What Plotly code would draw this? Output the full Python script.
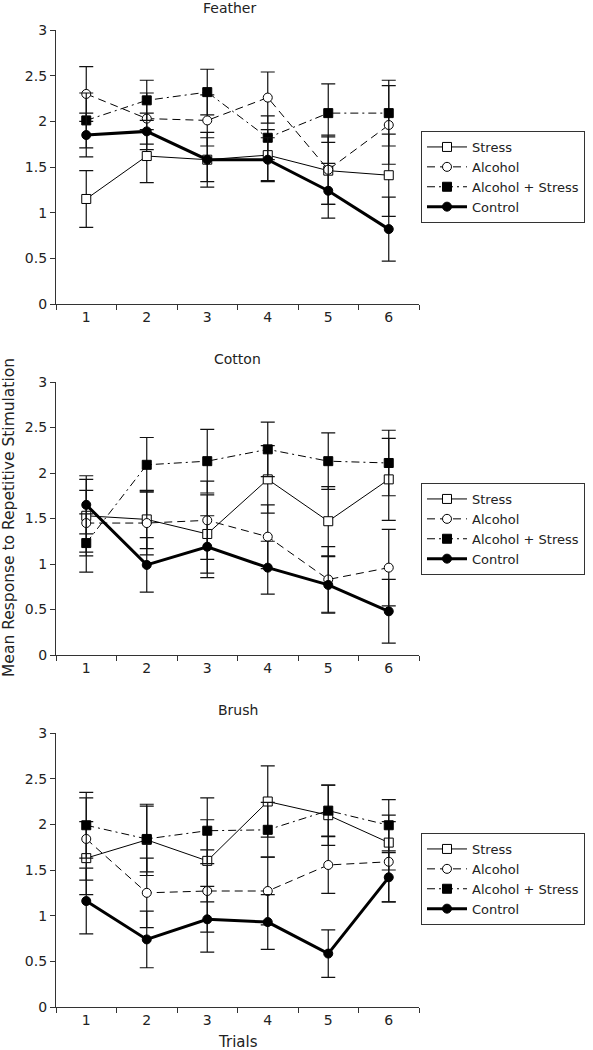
import plotly.graph_objects as go

trials = [1, 2, 3, 4, 5, 6]
series_names = ["Stress", "Alcohol", "Alcohol + Stress", "Control"]
panel_titles = ["Feather", "Cotton", "Brush"]
y_ticks = [0, 0.5, 1, 1.5, 2, 2.5, 3]
y_tick_labels = ["0", "0.5", "1", "1.5", "2", "2.5", "3"]

# Feather
feather_stress = [1.15, 1.62, 1.58, 1.63, 1.46, 1.41]
feather_stress_err = [0.31, 0.29, 0.30, 0.28, 0.37, 0.45]
feather_alcohol = [2.30, 2.03, 2.01, 2.26, 1.47, 1.96]
feather_alcohol_err = [0.30, 0.28, 0.28, 0.28, 0.38, 0.43]
feather_alc_stress = [2.01, 2.23, 2.32, 1.82, 2.09, 2.09]
feather_alc_stress_err = [0.30, 0.22, 0.25, 0.24, 0.32, 0.36]
feather_control = [1.85, 1.89, 1.58, 1.58, 1.24, 0.82]
feather_control_err = [0.24, 0.20, 0.24, 0.24, 0.30, 0.35]

# Cotton
cotton_stress = [1.53, 1.49, 1.33, 1.93, 1.47, 1.93]
cotton_stress_err = [0.40, 0.32, 0.43, 0.37, 0.38, 0.45]
cotton_alcohol = [1.45, 1.45, 1.48, 1.30, 0.83, 0.96]
cotton_alcohol_err = [0.36, 0.35, 0.43, 0.35, 0.36, 0.42]
cotton_alc_stress = [1.23, 2.09, 2.13, 2.26, 2.13, 2.11]
cotton_alc_stress_err = [0.32, 0.30, 0.35, 0.30, 0.31, 0.36]
cotton_control = [1.65, 0.99, 1.19, 0.96, 0.77, 0.48]
cotton_control_err = [0.32, 0.30, 0.34, 0.29, 0.31, 0.35]

# Brush
brush_stress = [1.63, 1.83, 1.60, 2.25, 2.10, 1.80]
brush_stress_err = [0.40, 0.39, 0.45, 0.39, 0.33, 0.30]
brush_alcohol = [1.84, 1.25, 1.27, 1.27, 1.555, 1.59]
brush_alcohol_err = [0.45, 0.38, 0.45, 0.37, 0.31, 0.44]
brush_alc_stress = [1.99, 1.84, 1.93, 1.94, 2.15, 1.99]
brush_alc_stress_err = [0.36, 0.36, 0.36, 0.30, 0.28, 0.28]
brush_control = [1.16, 0.74, 0.96, 0.93, 0.585, 1.42]
brush_control_err = [0.36, 0.31, 0.36, 0.30, 0.26, 0.27]

panels = [
    [(feather_stress, feather_stress_err), (feather_alcohol, feather_alcohol_err),
     (feather_alc_stress, feather_alc_stress_err), (feather_control, feather_control_err)],
    [(cotton_stress, cotton_stress_err), (cotton_alcohol, cotton_alcohol_err),
     (cotton_alc_stress, cotton_alc_stress_err), (cotton_control, cotton_control_err)],
    [(brush_stress, brush_stress_err), (brush_alcohol, brush_alcohol_err),
     (brush_alc_stress, brush_alc_stress_err), (brush_control, brush_control_err)],
]

FONT = "DejaVu Sans, Verdana, sans-serif"
styles = [
    dict(line=dict(color="black", width=1, dash="solid"),
         marker=dict(symbol="square", size=9, color="white", line=dict(color="black", width=1))),
    dict(line=dict(color="black", width=1, dash="8px,5px"),
         marker=dict(symbol="circle", size=9, color="white", line=dict(color="black", width=1))),
    dict(line=dict(color="black", width=1, dash="8px,4px,2px,4px"),
         marker=dict(symbol="square", size=9, color="black", line=dict(color="black", width=1))),
    dict(line=dict(color="black", width=3, dash="solid"),
         marker=dict(symbol="circle", size=9, color="black", line=dict(color="black", width=1))),
]

W, H = 593, 1050
ml, mr, mt, mb = 56, 174, 30, 43
ph = H - mt - mb
pw = W - ml - mr
tops = [30, 382, 733]
bots = [304, 655, 1007]
def py(pix):
    return (H - mb - pix) / ph
def px(pix):
    return (pix - ml) / pw

fig = go.Figure()
legend_ids = ["legend", "legend2", "legend3"]
for p, data in enumerate(panels):
    xa = "x" if p == 0 else f"x{p+1}"
    ya = "y" if p == 0 else f"y{p+1}"
    for s, (vals, errs) in enumerate(data):
        st = styles[s]
        fig.add_trace(go.Scatter(
            x=trials, y=vals, mode="lines+markers", name=series_names[s],
            line=st["line"], marker=st["marker"],
            error_y=dict(type="data", array=errs, visible=True, color="#111", thickness=1.2, width=7),
            xaxis=xa, yaxis=ya, legend=legend_ids[p], showlegend=True,
        ))

layout = dict(
    width=W, height=H, paper_bgcolor="white", plot_bgcolor="white",
    margin=dict(l=ml, r=mr, t=mt, b=mb, autoexpand=False),
    font=dict(family=FONT, size=13, color="#222"),
    showlegend=True,
)
legend_tops = [131, 483, 833]
for p in range(3):
    sfx = "" if p == 0 else str(p + 1)
    layout["xaxis" + sfx] = dict(
        domain=[0, 1], range=[0.5, 6.5], anchor="y" + sfx,
        tickmode="array", tickvals=trials, ticktext=[str(t) for t in trials],
        ticks="", showline=True, linecolor="#333", linewidth=1.2,
        showgrid=False, zeroline=False, tickfont=dict(size=14, family=FONT, color="#222"),
        minor=dict(tick0=0.5, dtick=1, ticks="outside", ticklen=5, tickcolor="#333", showgrid=False),
    )
    layout["yaxis" + sfx] = dict(
        domain=[py(bots[p]), py(tops[p])], range=[0, 3], anchor="x" + sfx,
        tickmode="array", tickvals=y_ticks, ticktext=y_tick_labels,
        ticks="outside", ticklen=5, tickcolor="#333",
        showline=True, linecolor="#333", linewidth=1.2,
        showgrid=False, zeroline=False, tickfont=dict(size=14, family=FONT, color="#222"),
    )
    layout[legend_ids[p]] = dict(
        x=px(421), xanchor="left",
        y=py(legend_tops[p]), yanchor="top",
        bordercolor="#333", borderwidth=1, bgcolor="white",
        font=dict(size=13, family=FONT, color="#222"),
        tracegroupgap=0, itemwidth=40,
    )

title_pos = [(229, 8), (238, 359), (238, 710)]
anns = []
for p in range(3):
    anns.append(dict(text=panel_titles[p], xref="paper", yref="paper",
                     x=px(title_pos[p][0]), y=py(title_pos[p][1]),
                     xanchor="center", yanchor="middle", showarrow=False,
                     font=dict(size=14, family=FONT, color="#222")))
anns.append(dict(text="Trials", xref="paper", yref="paper",
                 x=px(238), y=py(1042), xanchor="center", yanchor="middle",
                 showarrow=False, font=dict(size=15, family=FONT, color="#222")))
anns.append(dict(text="Mean Response to Repetitive Stimulation", xref="paper", yref="paper",
                 x=px(9), y=py(518), xanchor="center", yanchor="middle",
                 textangle=-90, showarrow=False, font=dict(size=15.5, family=FONT, color="#222")))
layout["annotations"] = anns

fig.update_layout(**layout)
fig.write_html("out.html", config={"displayModeBar": False},
               post_script="document.body.style.margin='0';document.body.style.overflow='hidden';")
